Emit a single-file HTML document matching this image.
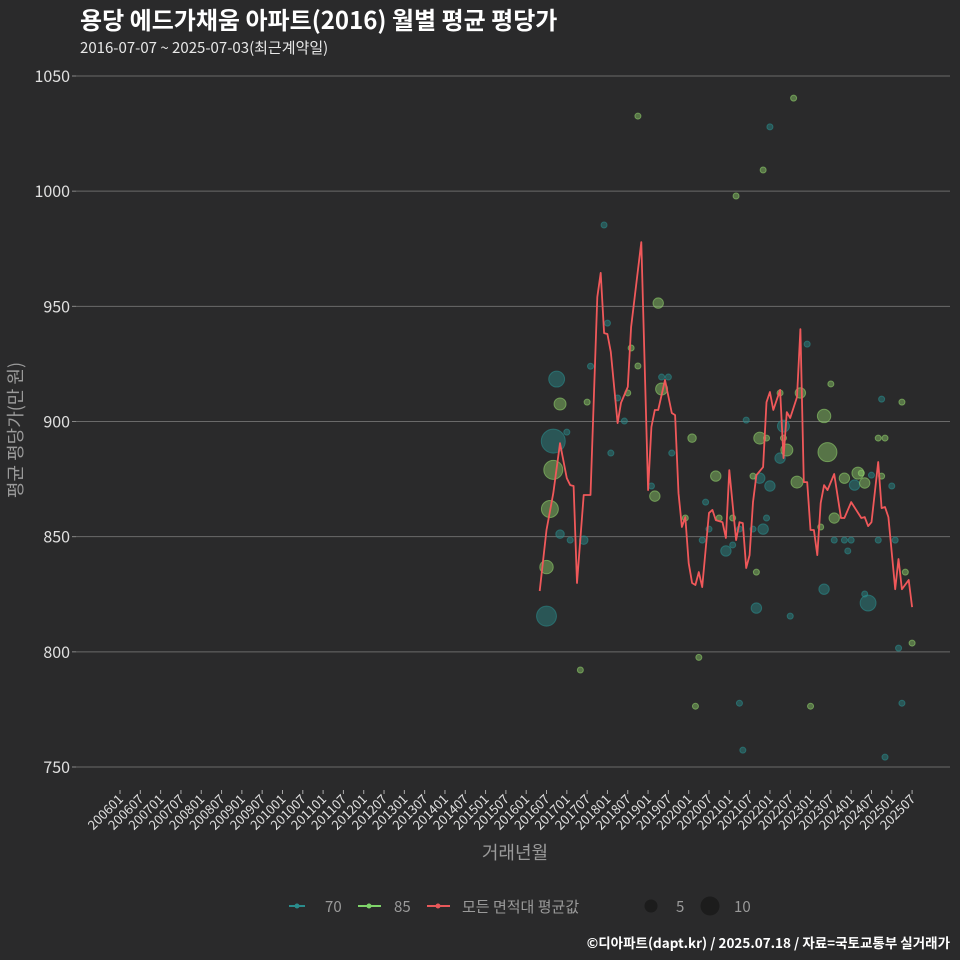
<!DOCTYPE html>
<html><head><meta charset="utf-8"><style>
html,body{margin:0;padding:0;background:#2a2a2b;}
svg{display:block;font-family:"Liberation Sans","Noto Sans CJK KR",sans-serif;}
</style></head><body>
<svg id="chart" width="960" height="960" viewBox="0 0 960 960" xmlns="http://www.w3.org/2000/svg">
<rect width="960" height="960" fill="#2a2a2b"/>
<text x="80" y="29" fill="#ffffff" font-size="24" font-weight="bold" font-family="'Noto Sans CJK KR',sans-serif">용당 에드가채움 아파트(2016) 월별 평균 평당가</text>
<text x="80" y="53" fill="#e8e8e8" font-size="15" font-family="'Noto Sans CJK KR',sans-serif">2016-07-07 ~ 2025-07-03(최근계약일)</text>
<g id="grid"></g>
<g id="xaxis"></g>
<g id="points"></g>
<g id="line"></g>
<text x="515" y="859" fill="#9a9a9a" font-size="18" text-anchor="middle" font-family="'Noto Sans CJK KR',sans-serif">거래년월</text>
<text transform="translate(22,430) rotate(-90)" fill="#9a9a9a" font-size="18" text-anchor="middle" font-family="'Noto Sans CJK KR',sans-serif">평균 평당가(만 원)</text>
<g font-family="'Noto Sans CJK KR',sans-serif" font-size="15" fill="#9a9a9a">
 <g><line x1="289" y1="906" x2="305" y2="906" stroke="#2a8c8c" stroke-width="2"/><circle cx="297" cy="906" r="2.5" fill="#2a8c8c"/><text x="325" y="912">70</text></g>
 <g><line x1="358" y1="906" x2="381" y2="906" stroke="#7fd46a" stroke-width="2"/><circle cx="369" cy="906" r="2.5" fill="#7fd46a"/><text x="394" y="912">85</text></g>
 <g><line x1="427" y1="906" x2="450" y2="906" stroke="#e8585a" stroke-width="2"/><circle cx="438" cy="906" r="2.5" fill="#e8585a"/><text x="462" y="912">모든 면적대 평균값</text></g>
 <g><circle cx="651" cy="906" r="6.5" fill="#1c1c1c"/><text x="676" y="912">5</text></g>
 <g><circle cx="710" cy="906" r="9.5" fill="#1c1c1c"/><text x="734" y="912">10</text></g>
</g>
<text x="950" y="948" fill="#ffffff" font-size="13.5" font-weight="bold" text-anchor="end" font-family="'Noto Sans CJK KR',sans-serif">©디아파트(dapt.kr) / 2025.07.18 / 자료=국토교통부 실거래가</text>
</svg>
<script>
// month index = months since 2006-01
const yTicks=[750,800,850,900,950,1000,1050];
const xTickLabels=[];
for(let y=2006;y<=2025;y++){xTickLabels.push(y+'01');xTickLabels.push(y+'07');}
const lineMonths=[124,126,128,130,132,133,134,135,137,139,141,142,143,144,145,147,148,150,151,154,156,157,158,159,161,163,164,165,166,167,168,169,170,171,172,174,175,176,178,179,180,182,183,184,185,186,187,188,190,191,192,193,195,196,197,198,200,201,202,203,204,205,206,207,208,209,211,213,214,216,219,220,221,222,224,225,226,227,229,230,231,233,234];
const lineValues=[826.4,852.9,868.9,890.6,875.4,872.4,872,829.9,868.1,868.1,954,964.5,938.4,938,930.2,899.3,908.1,915,941,977.9,870.2,897.6,905,905,918,903.7,902.8,868.9,854.2,858.5,838.5,829.9,829,834.6,828.1,860.3,861.6,857.2,856.3,849.4,878.9,848.5,856.3,855.9,836.4,842,865,876.7,880.2,908.4,912.8,905,913.7,884.1,904.1,901.5,910.6,940.1,873.7,873.7,852.9,852.9,842,864.6,872.4,870.2,877.2,858.1,858.1,865,858.1,858.5,854.6,856.3,882.4,862.4,862.9,858.5,827.2,840.3,827.2,831.2,819.4];
const p70Months=[126,128,129,132,130,133,137,139,143,144,145,147,149,157,160,162,163,172,173,174,179,181,183,183,184,185,187,188,189,190,191,192,192,195,196,198,203,208,211,214,215,216,217,220,221,222,224,225,226,228,229,230,231];
const p70Values=[815.5,891.5,918.4,895.4,851.1,848.5,848.5,924,985.3,942.7,886.3,910.2,900.2,872,919.3,919.3,886.3,848.5,865,853.3,843.8,846.4,853.3,777.7,757.3,900.6,853.3,819,875.4,853.3,858.1,872,1027.9,884.1,898,815.5,933.6,827.2,848.5,848.5,843.8,848.5,872.4,825.1,821.2,876.7,848.5,909.7,754.3,872,848.5,801.6,777.7];
const p70Counts=[11,16,7,1,2,1,2,1,1,1,1,1,1,1,1,1,1,1,1,1,3,1,1,1,1,1,1,3,3,3,1,3,1,3,4,1,1,3,1,1,1,1,3,1,7,1,1,1,1,1,1,1,1];
const p85Months=[126,127,128,130,138,136,151,153,153,150,159,160,158,169,170,171,167,176,177,181,182,188,187,189,190,191,195,196,197,200,201,199,204,210,208,209,211,207,214,218,219,220,224,226,225,231,232,234];
const p85Values=[836.8,862,879,907.6,908.4,792.1,931.9,924.1,1032.6,912.4,951.4,914.1,867.6,892.8,776.4,797.6,858.1,876.3,858.1,858.1,997.9,834.6,876.3,892.8,1009.2,892.8,912.4,892.8,887.6,873.7,912.4,1040.4,776.4,916.3,902.4,886.7,858.1,854.2,875.4,877.6,877.6,873.3,892.8,892.8,876.3,908.4,834.6,803.8];
const p85Counts=[5,8,10,4,1,1,1,1,1,1,3,4,3,2,1,1,1,3,1,1,1,1,1,4,1,1,1,1,4,4,3,1,1,1,5,10,3,1,3,4,1,3,1,1,1,1,1,1];

const NS='http://www.w3.org/2000/svg';
const X0=120,XSTEP=20.31/6;
const xScale=m=>X0+m*XSTEP;
const yScale=v=>767-(v-750)*(691/300);
const rScale=n=>3*Math.sqrt(n);
function mk(tag,attrs,parent){const e=document.createElementNS(NS,tag);for(const k in attrs)e.setAttribute(k,attrs[k]);parent.appendChild(e);return e;}

const grid=document.getElementById('grid');
yTicks.forEach(t=>{
  const l=mk('line',{x1:76,x2:950,y1:yScale(t),y2:yScale(t),stroke:'#6a6a6a','stroke-width':1},grid);
  
  
  const tk=mk('line',{x1:72,x2:76,y1:yScale(t),y2:yScale(t),stroke:'#888'},grid);
  
  
  const tx=mk('text',{x:70,y:yScale(t)+6,fill:'#e0e0e0','font-size':16,'text-anchor':'end','font-family':"'Noto Sans CJK KR',sans-serif"},grid);
  tx.textContent=t;
  
  
});
const xa=document.getElementById('xaxis');
xTickLabels.forEach((lab,i)=>{
  const x=xScale(i*6);
  const tk=mk('line',{x1:x,x2:x,y1:790,y2:794,stroke:'#aaa'},xa);
  
  
  const tx=mk('text',{x:x+4,y:800,fill:'#e0e0e0','font-size':13,'text-anchor':'end','font-family':"'Noto Sans CJK KR',sans-serif",transform:`rotate(-45 ${x+4} 800)`},xa);
  tx.textContent=lab;
  
  
});
const pts=document.getElementById('points');
function drawPts(ms,vs,cs,col,name){
  ms.forEach((m,i)=>{
    const c=mk('circle',{cx:xScale(m),cy:yScale(vs[i]),r:rScale(cs[i]),fill:col,'fill-opacity':0.45,stroke:col,'stroke-opacity':0.6,'stroke-width':1},pts);
    
    
  });
}
drawPts(p70Months,p70Values,p70Counts,'#2a8c8c','bubble-70');
drawPts(p85Months,p85Values,p85Counts,'#8fcf6a','bubble-85');
const ln=document.getElementById('line');
const d=lineMonths.map((m,i)=>(i?'L':'M')+xScale(m).toFixed(1)+','+yScale(lineValues[i]).toFixed(1)).join(' ');
const path=mk('path',{d:d,fill:'none',stroke:'#f0585a','stroke-width':1.8,'stroke-linejoin':'round'},ln);


</script>
</body></html>
